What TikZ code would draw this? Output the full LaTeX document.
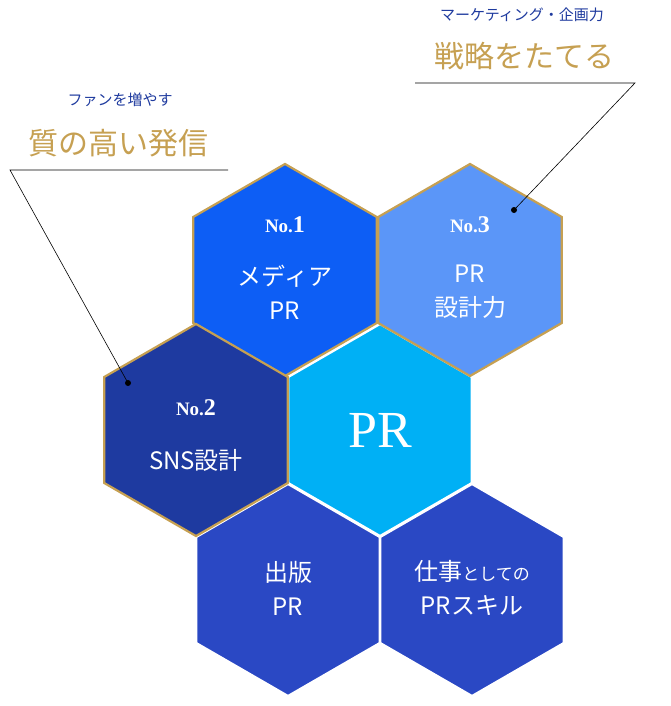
\documentclass[tikz,border=0pt]{standalone}
\usepackage{fontspec}
\setmainfont{Liberation Serif}
\newfontfamily\jp{Noto Sans CJK JP}
\definecolor{gold}{HTML}{C6A052}
\definecolor{lab}{HTML}{1E3A9E}
\definecolor{cbot}{HTML}{2A48C4}
\definecolor{cmid}{HTML}{00B0F5}
\definecolor{ctl}{HTML}{0D5EF5}
\definecolor{ctr}{HTML}{5B96F8}
\definecolor{cml}{HTML}{1E3AA0}
\begin{document}
\begin{tikzpicture}[x=1pt,y=-1pt,
  hex/.style={draw=#1,line width=2.2pt,line join=miter},
  lbl/.style={text=white,align=center,font=\jp\fontsize{24}{34}\selectfont},
  no/.style={text=white,font=\bfseries\fontsize{19}{22}\selectfont},
  goldt/.style={text=gold,font=\jp\fontsize{30}{34}\selectfont},
  blu/.style={text=lab,font=\jp\fontsize{15}{18}\selectfont},
  lead/.style={draw=black,line width=0.6pt},
  dot/.style={circle,fill=black,inner sep=0pt,minimum size=6pt}]
\useasboundingbox (0,0) rectangle (670,706);
\newcommand{\hexat}[4]{%
  \filldraw[fill=#3,hex=#4] ({#1},{#2-106}) -- ({#1+91.8},{#2-53}) -- ({#1+91.8},{#2+53})
   -- ({#1},{#2+106}) -- ({#1-91.8},{#2+53}) -- ({#1-91.8},{#2-53}) -- cycle;}
\hexat{288}{590}{cbot}{white}
\hexat{472}{590}{cbot}{white}
\hexat{380}{430}{cmid}{white}
\hexat{285}{270}{ctl}{gold}
\hexat{470}{270}{ctr}{gold}
\hexat{196}{430}{cml}{gold}
% texts
\node[no] (n1) at (285,225) {No.\fontsize{24}{26}\selectfont 1};
\node[lbl] (t1) at (285,292) {メディア\\PR};
\node[no] (n3) at (470,225) {No.\fontsize{24}{26}\selectfont 3};
\node[lbl] (t3) at (470,292) {PR\\設計力};
\node[no] (n2) at (196,408) {No.\fontsize{24}{26}\selectfont 2};
\node[lbl] (t2) at (196,460) {SNS設計};
\node[text=white,font=\fontsize{52}{56}\selectfont] (pr) at (380,430) {PR};
\node[lbl] (t4) at (288,588) {出版\\PR};
\node[lbl] (t5) at (472,588) {仕事{\fontsize{17}{20}\selectfont としての}\\PRスキル};
% callouts
\node[blu] (b1) at (120,100) {ファンを増やす};
\node[goldt] (g1) at (118,143) {質の高い発信};
\coordinate (l1a) at (228,170); \coordinate (l1b) at (10,170);
\node[dot] (d1) at (128,383) {};
\draw[lead] (l1a) -- (l1b) -- (d1.center);
\node[blu] (b2) at (522,15) {マーケティング・企画力};
\node[goldt] (g2) at (524,56) {戦略をたてる};
\coordinate (l2a) at (415,83); \coordinate (l2b) at (635,83);
\node[dot] (d2) at (514,210) {};
\draw[lead] (l2a) -- (l2b) -- (d2.center);
\end{tikzpicture}
\end{document}
